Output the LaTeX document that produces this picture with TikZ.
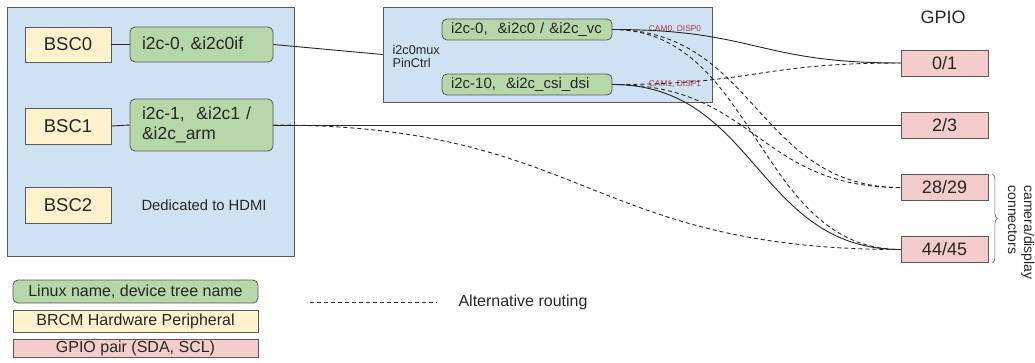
\documentclass[tikz,border=0pt]{standalone}
\usepackage{fontspec}
\setmainfont{Liberation Sans}
\usetikzlibrary{calc,decorations.pathreplacing}
\definecolor{bluefill}{HTML}{CFE2F3}
\definecolor{greenfill}{HTML}{B6D7A8}
\definecolor{yellowfill}{HTML}{FFF2CC}
\definecolor{pinkfill}{HTML}{F4CCCC}
\definecolor{edge}{HTML}{595959}
\definecolor{txt}{HTML}{262626}
\definecolor{camred}{HTML}{B03A3A}
\begin{document}
\begin{tikzpicture}[x=1pt,y=-1pt,
  every node/.style={text=txt},
  container/.style={draw=edge, fill=bluefill, line width=0.8pt, inner sep=0pt},
  hw/.style={draw=edge, fill=yellowfill, line width=0.8pt, minimum width=86pt, minimum height=35pt, inner sep=0pt, font=\fontsize{18.5}{22}\selectfont},
  lx/.style={draw=edge, fill=greenfill, rounded corners=5pt, line width=0.8pt, align=left, inner ysep=0pt},
  gp/.style={draw=edge, fill=pinkfill, line width=0.8pt, minimum width=87pt, minimum height=26pt, inner sep=0pt, font=\fontsize{18}{21}\selectfont},
  wire/.style={line width=0.9pt, draw=black!85},
  alt/.style={wire, dash pattern=on 4pt off 3pt},
  sc/.style={to path={let \p1=(\tikztostart), \p2=(\tikztotarget) in .. controls ({0.5*\x1+0.5*\x2},\y1) and ({0.5*\x1+0.5*\x2},\y2) .. (\tikztotarget)}}
]
\useasboundingbox (0,0) rectangle (1035,362);
% containers
\node[container, minimum width=287pt, minimum height=249pt] (soc) at (150.5,131.5) {};
\node[container, minimum width=329pt, minimum height=95pt] (mux) at (547.5,54.5) {};
% hardware peripherals
\node[hw] (bsc0) at (68,44.5) {BSC0};
\node[hw, minimum height=36pt] (bsc1) at (68,126) {BSC1};
\node[hw, minimum height=36pt] (bsc2) at (68,205) {BSC2};
\node[anchor=west, font=\fontsize{14.8}{17}\selectfont] (hdmi) at (138,205) {Dedicated to HDMI};
% linux names
\node[lx, text width=119pt, inner xsep=12pt, minimum height=35pt, font=\fontsize{17.5}{20}\selectfont] (i2c0if) at (201.5,44.5) {i2c-0, \&i2c0if};
\node[lx, text width=119pt, inner xsep=12pt, minimum height=52pt, font=\fontsize{17.5}{20}\selectfont] (i2c1) at (201.5,125) {i2c-1,\ \ \&i2c1 /\\\&i2c\_arm};
\node[anchor=west, align=left, font=\fontsize{12.7}{13.5}\selectfont] (muxlbl) at (389,56.5) {i2c0mux\\PinCtrl};
\node[lx, text width=152pt, inner xsep=9pt, minimum height=21pt, font=\fontsize{15}{17}\selectfont] (m0) at (527,29.5) {i2c-0,\ \ \&i2c0 / \&i2c\_vc};
\node[lx, text width=152pt, inner xsep=9pt, minimum height=21pt, font=\fontsize{15}{17}\selectfont] (m10) at (527,84.5) {i2c-10,\ \ \&i2c\_csi\_dsi};
\node[font=\fontsize{8.4}{9}\selectfont, text=camred] (cam0) at (675,29) {CAM0, DISP0};
\node[font=\fontsize{8.4}{9}\selectfont, text=camred] (cam1) at (675,84.5) {CAM1, DISP1};
% GPIO
\node[font=\fontsize{18}{21}\selectfont] (gpiolbl) at (943,17) {GPIO};
\node[gp] (g01) at (944.5,63) {0/1};
\node[gp] (g23) at (944.5,125) {2/3};
\node[gp] (g2829) at (944.5,187.5) {28/29};
\node[gp] (g4445) at (944.5,249.5) {44/45};
\draw[line width=0.6pt, draw=edge, decorate, decoration={brace, amplitude=5pt}] ([xshift=4pt]g2829.north east) -- ([xshift=4pt]g4445.south east);
\node[anchor=west, rotate=-90, align=left, font=\fontsize{14}{16}\selectfont] (camdisp) at (1021,182) {camera/display\\connectors};
% legend
\node[lx, align=center, inner sep=0pt, minimum width=245pt, minimum height=23pt, font=\fontsize{16}{19}\selectfont] (lg1) at (135.5,291.5) {Linux name, device tree name};
\node[draw=edge, fill=yellowfill, line width=0.8pt, inner sep=0pt, minimum width=245pt, minimum height=22pt, font=\fontsize{16}{19}\selectfont] (lg2) at (135.5,321) {BRCM Hardware Peripheral};
\node[draw=edge, fill=pinkfill, line width=0.8pt, inner sep=0pt, minimum width=245pt, minimum height=18pt, font=\fontsize{16}{19}\selectfont] (lg3) at (135.5,348) {GPIO pair (SDA, SCL)};
\coordinate (ld1) at (310,302);
\coordinate (ld2) at (437,302);
\draw[alt] (ld1) -- (ld2);
\node[anchor=west, font=\fontsize{16}{19}\selectfont] (altlbl) at (455,302) {Alternative routing};
% connectors
\draw[wire] (bsc0.east) -- (i2c0if.west);
\draw[wire] (bsc1.east) -- (i2c1.west);
\draw[wire] (i2c0if.east) -- (mux.west);
\draw[wire] (i2c1.east) -- (g23.west);
\draw[wire] (m0.east) to[sc] (g01.west);
\draw[wire] (m10.east) to[sc] (g4445.west);
\draw[alt] (m0.east) to[sc] (g2829.west);
\draw[alt] (m0.east) to[sc] (g4445.west);
\draw[alt] (m10.east) to[sc] (g01.west);
\draw[alt] (m10.east) to[sc] (g2829.west);
\draw[alt] (i2c1.east) to[sc] (g4445.west);
\end{tikzpicture}
\end{document}
